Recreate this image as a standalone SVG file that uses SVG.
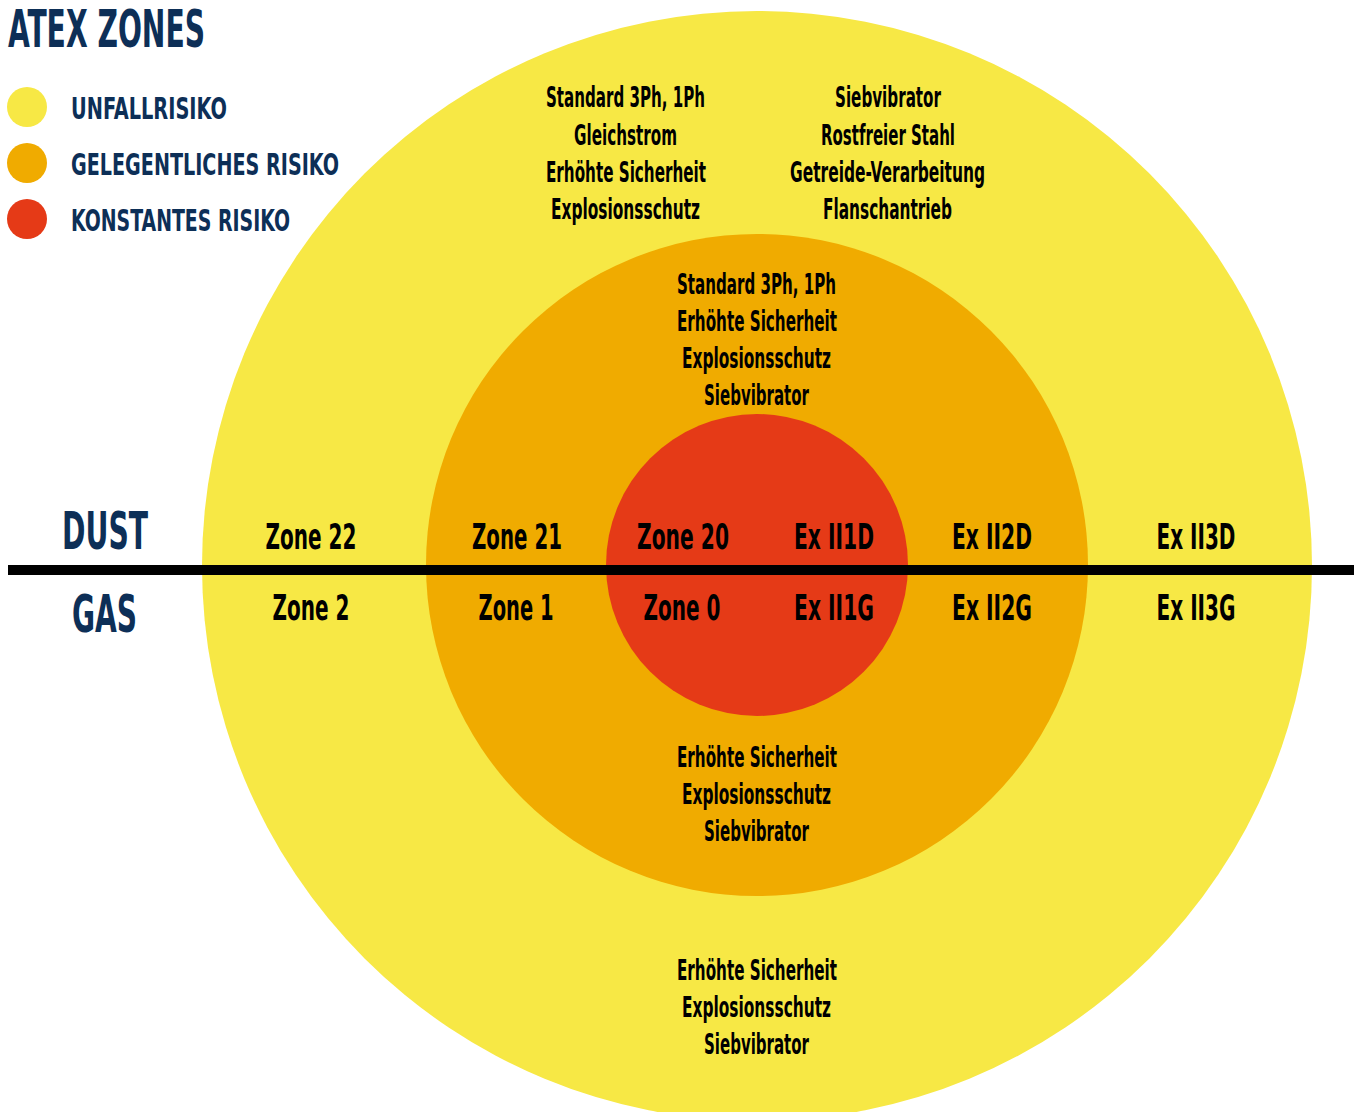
<svg xmlns="http://www.w3.org/2000/svg" width="1359" height="1112" viewBox="0 0 1359 1112">
<style>
text{font-family:"Liberation Sans Narrow","DejaVu Sans Condensed","Liberation Sans",sans-serif;font-weight:bold}
.nav{fill:#0d2f57}
.blk{fill:#000;text-anchor:middle}
.sm{font-size:28px}
.zn{font-size:36px}
.lg{font-size:31px}
.tt{font-size:52px}
.y{fill:#f7e845}.o{fill:#f0ab00}.r{fill:#e53a17}
</style>
<rect width="1359" height="1112" fill="#fff"/>
<g id="zone-outer"><circle class="y" cx="757" cy="566" r="555"/></g>
<g id="zone-middle"><circle class="o" cx="757" cy="565" r="331"/></g>
<g id="zone-inner"><circle class="r" cx="757" cy="565" r="151"/></g>
<g id="divider"><rect x="8" y="565" width="1346" height="10" fill="#000"/></g>
<g id="title"><text class="nav tt" x="8" y="47" textLength="197" lengthAdjust="spacingAndGlyphs">ATEX ZONES</text></g>
<g id="legend">
<circle class="y" cx="27" cy="107" r="20"/>
<circle class="o" cx="27" cy="163" r="20"/>
<circle class="r" cx="27" cy="219" r="20"/>
<text class="nav lg" x="71" y="119" textLength="156" lengthAdjust="spacingAndGlyphs">UNFALLRISIKO</text>
<text class="nav lg" x="71" y="175" textLength="268" lengthAdjust="spacingAndGlyphs">GELEGENTLICHES RISIKO</text>
<text class="nav lg" x="71" y="231" textLength="219" lengthAdjust="spacingAndGlyphs">KONSTANTES RISIKO</text>
</g>
<g id="dust-gas">
<text class="nav tt" x="62" y="549" textLength="86" lengthAdjust="spacingAndGlyphs">DUST</text>
<text class="nav tt" x="72" y="632" textLength="65" lengthAdjust="spacingAndGlyphs">GAS</text>
</g>
<g id="zone-labels">
<text class="blk zn" x="311" y="549" textLength="91" lengthAdjust="spacingAndGlyphs">Zone 22</text>
<text class="blk zn" x="311" y="620" textLength="77" lengthAdjust="spacingAndGlyphs">Zone 2</text>
<text class="blk zn" x="517" y="549" textLength="90" lengthAdjust="spacingAndGlyphs">Zone 21</text>
<text class="blk zn" x="516" y="620" textLength="75" lengthAdjust="spacingAndGlyphs">Zone 1</text>
<text class="blk zn" x="683" y="549" textLength="92" lengthAdjust="spacingAndGlyphs">Zone 20</text>
<text class="blk zn" x="682" y="620" textLength="77" lengthAdjust="spacingAndGlyphs">Zone 0</text>
<text class="blk zn" x="834" y="549" textLength="80" lengthAdjust="spacingAndGlyphs">Ex II1D</text>
<text class="blk zn" x="834" y="620" textLength="80" lengthAdjust="spacingAndGlyphs">Ex II1G</text>
<text class="blk zn" x="992" y="549" textLength="80" lengthAdjust="spacingAndGlyphs">Ex II2D</text>
<text class="blk zn" x="992" y="620" textLength="80" lengthAdjust="spacingAndGlyphs">Ex II2G</text>
<text class="blk zn" x="1196" y="549" textLength="79" lengthAdjust="spacingAndGlyphs">Ex II3D</text>
<text class="blk zn" x="1196" y="620" textLength="79" lengthAdjust="spacingAndGlyphs">Ex II3G</text>
</g>
<g id="outer-top-left">
<text class="blk sm" x="625.5" y="107" textLength="159" lengthAdjust="spacingAndGlyphs">Standard 3Ph, 1Ph</text>
<text class="blk sm" x="625.5" y="145" textLength="103" lengthAdjust="spacingAndGlyphs">Gleichstrom</text>
<text class="blk sm" x="626" y="182" textLength="160" lengthAdjust="spacingAndGlyphs">Erhöhte Sicherheit</text>
<text class="blk sm" x="625.5" y="219" textLength="149" lengthAdjust="spacingAndGlyphs">Explosionsschutz</text>
</g>
<g id="outer-top-right">
<text class="blk sm" x="888" y="107" textLength="106" lengthAdjust="spacingAndGlyphs">Siebvibrator</text>
<text class="blk sm" x="888" y="145" textLength="134" lengthAdjust="spacingAndGlyphs">Rostfreier Stahl</text>
<text class="blk sm" x="887.5" y="182" textLength="195" lengthAdjust="spacingAndGlyphs">Getreide-Verarbeitung</text>
<text class="blk sm" x="887.5" y="219" textLength="129" lengthAdjust="spacingAndGlyphs">Flanschantrieb</text>
</g>
<g id="middle-top">
<text class="blk sm" x="756.5" y="294" textLength="159" lengthAdjust="spacingAndGlyphs">Standard 3Ph, 1Ph</text>
<text class="blk sm" x="757" y="331" textLength="160" lengthAdjust="spacingAndGlyphs">Erhöhte Sicherheit</text>
<text class="blk sm" x="756.5" y="368" textLength="149" lengthAdjust="spacingAndGlyphs">Explosionsschutz</text>
<text class="blk sm" x="756.5" y="405" textLength="105" lengthAdjust="spacingAndGlyphs">Siebvibrator</text>
</g>
<g id="middle-bottom">
<text class="blk sm" x="757" y="767" textLength="160" lengthAdjust="spacingAndGlyphs">Erhöhte Sicherheit</text>
<text class="blk sm" x="756.5" y="804" textLength="149" lengthAdjust="spacingAndGlyphs">Explosionsschutz</text>
<text class="blk sm" x="756.5" y="841" textLength="105" lengthAdjust="spacingAndGlyphs">Siebvibrator</text>
</g>
<g id="outer-bottom">
<text class="blk sm" x="757" y="980" textLength="160" lengthAdjust="spacingAndGlyphs">Erhöhte Sicherheit</text>
<text class="blk sm" x="756.5" y="1017" textLength="149" lengthAdjust="spacingAndGlyphs">Explosionsschutz</text>
<text class="blk sm" x="756.5" y="1054" textLength="105" lengthAdjust="spacingAndGlyphs">Siebvibrator</text>
</g>
</svg>
